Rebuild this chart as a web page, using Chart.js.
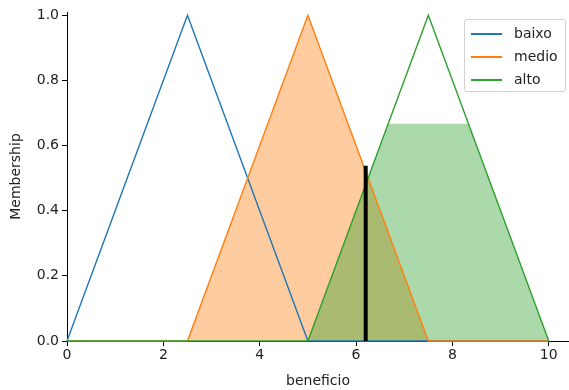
<!DOCTYPE html>
<html>
<head>
<meta charset="utf-8">
<script src="https://cdn.jsdelivr.net/npm/chart.js@4.4.1/dist/chart.umd.min.js"></script>
<style>
html,body{margin:0;padding:0;background:#fff;}
#wrap{position:relative;width:569px;height:390px;}
#legend{position:absolute;left:464px;top:19px;width:100px;height:71px;border:1px solid #d0d0d0;border-radius:3px;background:rgba(255,255,255,0.8);font-family:"DejaVu Sans",sans-serif;font-size:14px;color:#222;}
.item{position:absolute;left:0;height:20px;line-height:20px;}
.item span.sw{position:absolute;left:6px;top:9px;width:31px;height:2px;}
.item span.tx{position:absolute;left:49px;top:-1px;white-space:nowrap;}
</style>
</head>
<body>
<div id="wrap">
<canvas id="c" width="569" height="390"></canvas>
<div id="legend"></div>
</div>
<script>
// universe and memberships
const names = ["baixo", "medio", "alto"];
const colors = ["#1f77b4", "#ff7f0e", "#2ca02c"];
const baixoX = [0, 2.5, 5, 10];
const baixoY = [0, 1, 0, 0];
const medioX = [0, 2.5, 5, 7.5, 10];
const medioY = [0, 0, 1, 0, 0];
const altoX = [0, 5, 7.5, 10];
const altoY = [0, 0, 1, 0];
// activated (filled) regions
const medioFillX = [2.5, 5, 7.5];
const medioFillY = [0, 1, 0];
const altoFillX = [5, 6.667, 8.333, 10];
const altoFillY = [0, 0.667, 0.667, 0];
// crisp output
const outX = [6.2, 6.2];
const outY = [0, 0.538];
const xTicks = [0, 2, 4, 6, 8, 10];
const yTicks = [0, 0.2, 0.4, 0.6, 0.8, 1.0];

const pts = (xs, ys) => xs.map((x, i) => ({x: x, y: ys[i]}));
const font = {family: "DejaVu Sans", size: 14};

const datasets = [
  {label:"medioFill", data: pts(medioFillX, medioFillY), showLine:true, borderWidth:0, pointRadius:0,
   fill:'origin', backgroundColor:'rgba(255,127,14,0.4)', borderColor:'rgba(0,0,0,0)', order:5},
  {label:"altoFill", data: pts(altoFillX, altoFillY), showLine:true, borderWidth:0, pointRadius:0,
   fill:'origin', backgroundColor:'rgba(44,160,44,0.4)', borderColor:'rgba(0,0,0,0)', order:4},
  {label:names[0], data: pts(baixoX, baixoY), showLine:true, borderWidth:1.4, pointRadius:0, fill:false, borderColor:colors[0], order:3},
  {label:names[1], data: pts(medioX, medioY), showLine:true, borderWidth:1.4, pointRadius:0, fill:false, borderColor:colors[1], order:2},
  {label:names[2], data: pts(altoX, altoY), showLine:true, borderWidth:1.4, pointRadius:0, fill:false, borderColor:colors[2], order:1},
  {label:"out", data: pts(outX, outY), showLine:true, borderWidth:4, pointRadius:0, fill:false, borderColor:'#000', borderCapStyle:'butt', order:0}
];

new Chart(document.getElementById('c'), {
  type: 'scatter',
  data: {datasets: datasets},
  options: {
    responsive: false,
    animation: false,
    devicePixelRatio: 1,
    layout: {padding: {top: 12, right: 0, left: 0, bottom: 0}},
    elements: {line: {tension: 0}},
    datasets: {scatter: {clip: 4}},
    plugins: {legend: {display: false}, tooltip: {enabled: false}},
    scales: {
      x: {
        type: 'linear', min: 0, max: 10.42,
        afterBuildTicks: s => { s.ticks = xTicks.map(v => ({value: v})); },
        afterFit: s => { s.height = 49; },
        grid: {drawOnChartArea: false, drawTicks: true, tickLength: 5, color: '#000', tickWidth: 1},
        border: {display: true, color: '#000', width: 1},
        ticks: {font: font, color: '#222', padding: 1, maxRotation: 0, callback: v => String(v)},
        title: {display: true, text: 'beneficio', font: font, color: '#222', padding: {top: 2, bottom: 0}}
      },
      y: {
        type: 'linear', min: 0, max: 1.01,
        afterBuildTicks: s => { s.ticks = yTicks.map(v => ({value: v})); },
        afterFit: s => { s.width = 67; },
        grid: {drawOnChartArea: false, drawTicks: true, tickLength: 5, color: '#000', tickWidth: 1},
        border: {display: true, color: '#000', width: 1},
        ticks: {font: font, color: '#222', padding: 3, callback: v => Number(v).toFixed(1)},
        title: {display: true, text: 'Membership', font: font, color: '#222', padding: {top: 8, bottom: 4}}
      }
    }
  }
});

const lg = document.getElementById('legend');
names.forEach((n, i) => {
  const d = document.createElement('div');
  d.className = 'item';
  d.style.top = (4 + i * 23) + 'px';
  d.innerHTML = '<span class="sw" style="background:' + colors[i] + '"></span><span class="tx">' + n + '</span>';
  lg.appendChild(d);
});
</script>
</body>
</html>
